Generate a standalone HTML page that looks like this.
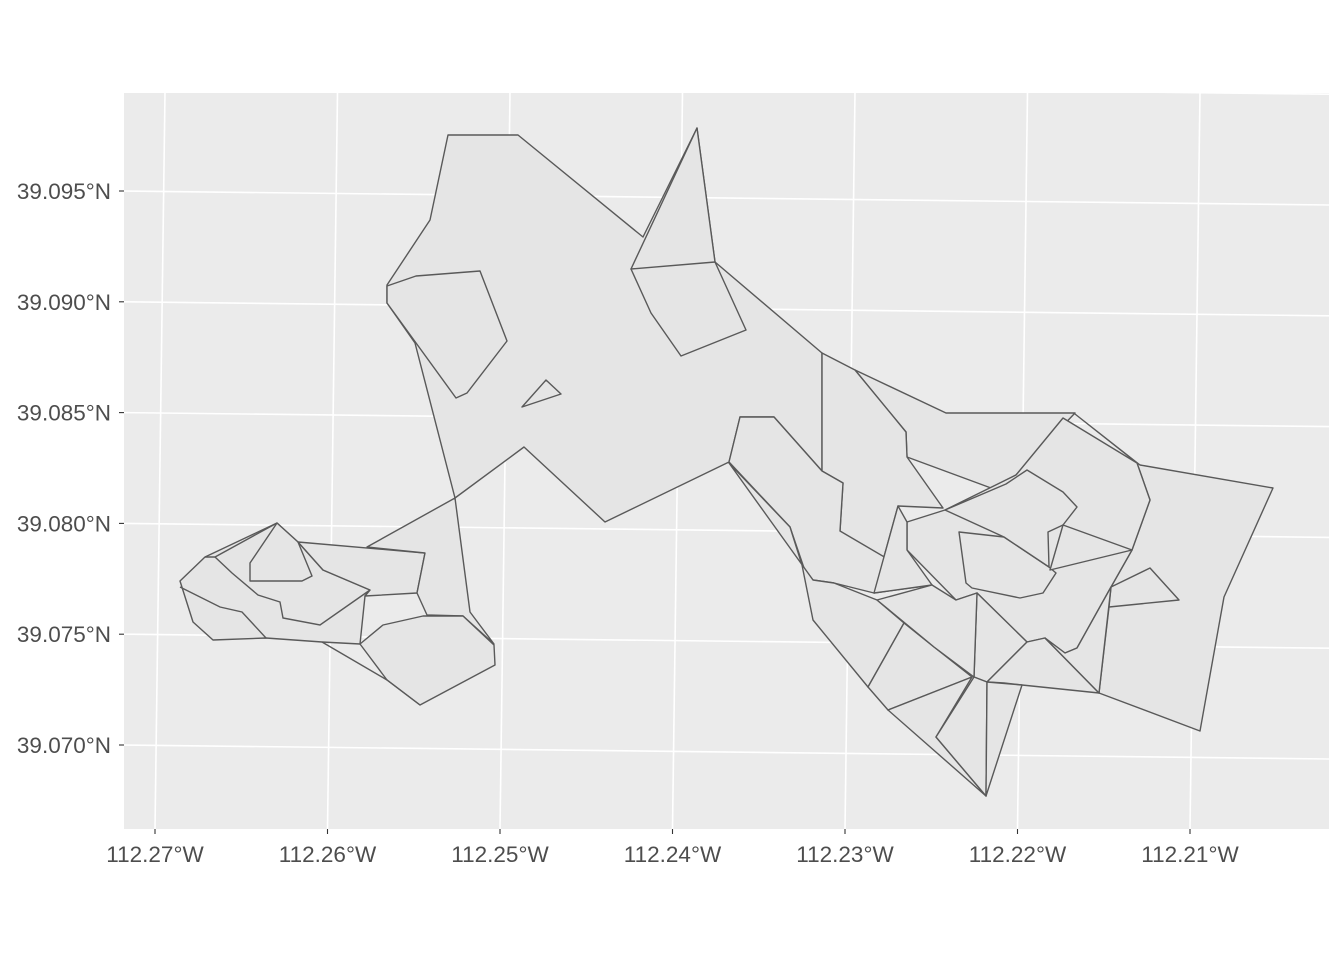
<!DOCTYPE html>
<html><head><meta charset="utf-8"><style>
html,body{margin:0;padding:0;background:#fff;}
svg{display:block;font-family:"Liberation Sans",Arial,sans-serif;}
</style></head><body>
<svg id="chart" width="1344" height="960">
<defs><clipPath id="pc"><rect x="124" y="93" width="1205" height="736"/></clipPath></defs>
<rect x="124" y="93" width="1205" height="736" fill="#ebebeb"/>
<g id="grid" clip-path="url(#pc)"></g>
<g id="polys"></g>
<g id="axes"></g>
</svg>
<script>
// graticule / tick data
const lonTicks = [-112.27, -112.26, -112.25, -112.24, -112.23, -112.22, -112.21];
const lonLabels = ["112.27°W","112.26°W","112.25°W","112.24°W","112.23°W","112.22°W","112.21°W"];
const latTicks = [39.070, 39.075, 39.080, 39.085, 39.090, 39.095];
const latLabels = ["39.070°N","39.075°N","39.080°N","39.085°N","39.090°N","39.095°N"];
const lonGrid = [-112.28, -112.27, -112.26, -112.25, -112.24, -112.23, -112.22, -112.21, -112.20];
const latGrid = [39.065, 39.070, 39.075, 39.080, 39.085, 39.090, 39.095, 39.100];

// polygon geometries in local projected metres [easting, northing]
const polyMain = [[1935,3575],[2150,3900],[2240,4325],[2590,4325],[3215,3815],[3485,4360],[3575,3690],[4110,3235],[4110,2645],[3870,2915],[3700,2915],[3645,2690],[3025,2390],[2620,2765],[2275,2510],[2075,3285],[1935,3485]];
const polyPent = [[1935,3485],[2280,3010],[2335,3035],[2535,3295],[2400,3645],[2080,3620],[1935,3570]];
const polyTri = [[2610,2965],[2730,3100],[2805,3030]];
const polySpike = [[3155,3655],[3485,4360],[3575,3690],[3560,3595],[3350,3595]];
const polyLowSpike = [[3155,3655],[3255,3435],[3405,3220],[3730,3350],[3575,3690]];
const polyRTop = [[4275,3150],[4730,2935],[5375,2935],[5080,2625],[4955,2560],[4535,2715],[4530,2840]];
const polyRCol = [[4110,3235],[4275,3150],[4530,2840],[4535,2715],[4715,2460],[4490,2470],[4370,2035],[4200,2345],[4215,2585],[4110,2645]];
const polyL1 = [[3645,2690],[3700,2915],[3870,2915],[4110,2645],[4215,2585],[4200,2345],[4660,2075],[4370,2035],[4170,2085],[4065,2100],[4020,2160],[3950,2365]];
const polyLL1 = [[3645,2685],[3950,2365],[4010,2175],[4065,1900],[4340,1565],[4520,1885],[4385,2000],[4170,2085],[4065,2100]];
const polyLL2 = [[4340,1565],[4440,1450],[4860,1615],[4670,1765],[4520,1885]];
const polyLL3 = [[4440,1450],[4930,1020],[4680,1315],[4860,1615]];
const polyEast = [[5375,2930],[5700,2675],[6365,2560],[6120,2015],[6000,1345],[5495,1535],[5545,1965],[5555,2065],[5660,2250],[5750,2500],[5685,2685]];
const polyT = [[5555,2065],[5750,2160],[5895,2000],[5545,1965]];
const polyRing = [[5315,2910],[5685,2685],[5750,2500],[5660,2250],[5555,2065],[5385,1760],[5325,1735],[5225,1810],[5135,1790],[4885,2035],[4780,2000],[4535,2250],[4535,2390],[4725,2450],[5080,2625]];
const polyC = [[4795,2340],[5020,2315],[5245,2165],[5280,2135],[5215,2035],[5100,2010],[4860,2060],[4830,2085]];
const polyC2 = [[5030,2580],[5135,2650],[5315,2540],[5385,2465],[5315,2375],[5240,2340],[5245,2165],[5020,2315],[4725,2450]];
const polyC3 = [[5315,2375],[5660,2250],[5250,2150]];
const polyC4 = [[4535,2390],[4490,2470],[4370,2035],[4660,2075],[4535,2250]];
const polyB1 = [[4885,2035],[5135,1790],[4935,1590],[4870,1615]];
const polyB2 = [[4885,2035],[4870,1615],[4670,1765],[4385,2000],[4660,2075],[4780,2000]];
const polyB3 = [[4935,1590],[5135,1790],[5225,1810],[5495,1535],[5110,1575],[5020,1585]];
const polyB4 = [[4870,1615],[4935,1590],[4930,1020],[4680,1315]];
const polyB5 = [[4935,1590],[5110,1575],[4930,1020]];
const polyB6 = [[5385,1760],[5555,2065],[5495,1535],[5225,1810],[5325,1735]];
const polyK1 = [[1385,2385],[1025,2215],[900,2095],[965,1890],[1065,1800],[1330,1810],[1610,1790],[1800,1780],[1825,2020],[1850,2050],[1615,2150],[1490,2290]];
const polyK2 = [[1385,2385],[1250,2185],[1250,2095],[1510,2095],[1560,2120],[1490,2290]];
const polyK5 = [[1490,2290],[2125,2235],[2085,2035],[1825,2020],[1850,2050],[1615,2150]];
const polyK6 = [[1835,2265],[2275,2510],[2350,1940],[2470,1780],[2315,1920],[2135,1925],[2085,2035],[2125,2235]];
const polyK7 = [[1800,1780],[1915,1875],[2115,1920],[2315,1920],[2470,1775],[2475,1675],[2100,1475],[1935,1600]];
const lineK3 = [[1075,2215],[1160,2135],[1290,2025],[1400,1990],[1415,1910],[1600,1875],[1850,2050]];
const lineK4 = [[900,2065],[1100,1965],[1210,1940],[1330,1810]];
const lineK8 = [[1610,1790],[1935,1600],[2100,1475]];
const lineAB = [[1385,2385],[1075,2215],[1025,2215]];

const polygons = [polyMain,polyPent,polyTri,polySpike,polyLowSpike,polyRTop,polyRCol,polyL1,polyLL1,polyLL2,polyLL3,polyEast,polyT,polyRing,polyC,polyC2,polyC3,polyC4,polyB1,polyB2,polyB3,polyB4,polyB5,polyB6,polyK1,polyK2,polyK5,polyK6,polyK7];
const polylines = [lineK3,lineK4,lineK8,lineAB];

const NS = "http://www.w3.org/2000/svg";
function xs(e){ return e/5; }
function ys(n){ return 1000 - n/5; }
function lonX(lon){ return 155 + (lon + 112.27)*17250; }
function latY(lat){ return 191 - (lat - 39.095)*22160; }
function mk(tag, attrs, parent){ const el=document.createElementNS(NS,tag); for(const k in attrs) el.setAttribute(k,attrs[k]); parent.appendChild(el); return el; }

const grid=document.getElementById('grid');
lonGrid.forEach(function(lon){
  const xb=lonX(lon);
  const ln=mk('line',{x1:xb,y1:829,x2:xb+10,y2:93,stroke:'#fff','stroke-width':1.6},grid);
  
  
});
latGrid.forEach(function(lat){
  const yl=latY(lat);
  const ln=mk('line',{x1:124,y1:yl,x2:1329,y2:yl+14,stroke:'#fff','stroke-width':1.6},grid);
  
  
});

const pg=document.getElementById('polys');
polygons.forEach(function(p){
  const pts=p.map(function(c){return xs(c[0])+','+ys(c[1]);}).join(' ');
  const el=mk('polygon',{points:pts,fill:'#e5e5e5',stroke:'#595959','stroke-width':1.4,'stroke-linejoin':'round'},pg);
  
  
});
polylines.forEach(function(p){
  const pts=p.map(function(c){return xs(c[0])+','+ys(c[1]);}).join(' ');
  const el=mk('polyline',{points:pts,fill:'none',stroke:'#595959','stroke-width':1.4},pg);
  
  
});

const ax=document.getElementById('axes');
lonTicks.forEach(function(lon,i){
  const x=lonX(lon);
  const t=mk('line',{x1:x,y1:829,x2:x,y2:834,stroke:'#333','stroke-width':1.1},ax);
  
  
  const tx=mk('text',{x:x,y:862,'text-anchor':'middle','font-size':22.5,fill:'#4d4d4d'},ax);
  tx.textContent=lonLabels[i];
  
  
});
latTicks.forEach(function(lat,i){
  const y=latY(lat);
  const t=mk('line',{x1:119,y1:y,x2:124,y2:y,stroke:'#333','stroke-width':1.1},ax);
  
  
  const tx=mk('text',{x:111,y:y+8,'text-anchor':'end','font-size':22.5,fill:'#4d4d4d'},ax);
  tx.textContent=latLabels[i];
  
  
});
</script>
</body></html>
